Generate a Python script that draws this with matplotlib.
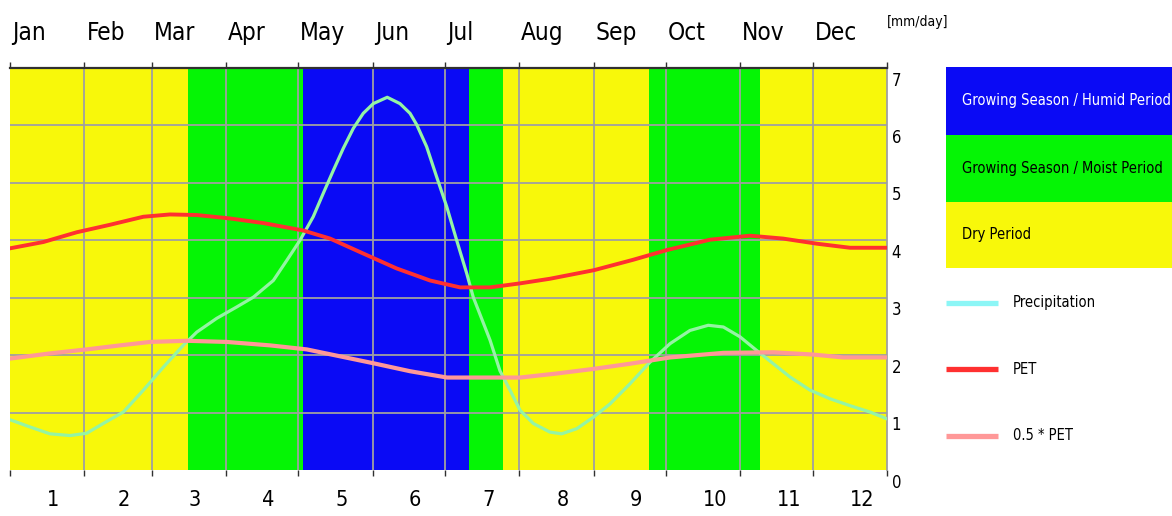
import numpy as np
import matplotlib
matplotlib.use("Agg")
import matplotlib.pyplot as plt
from matplotlib.patches import Rectangle
from matplotlib.lines import Line2D

plt.rcParams['font.family'] = ['DejaVu Sans']
plt.rcParams['font.stretch'] = 'condensed'

# calendar
month_names = ['Jan', 'Feb', 'Mar', 'Apr', 'May', 'Jun',
               'Jul', 'Aug', 'Sep', 'Oct', 'Nov', 'Dec']
month_days = [31, 28, 31, 30, 31, 30, 31, 31, 30, 31, 30, 31]

# periods (day of year)
season_edges = [0, 74, 122, 191, 205, 266, 312, 365]
season_kinds = ['dry', 'moist', 'humid', 'moist', 'dry', 'moist', 'dry']
season_colors = {'humid': '#0a0af5', 'moist': '#05f505', 'dry': '#f8f80a'}

# precipitation [mm/day]
precip_day = [0, 8.3, 16.6, 25.0, 31.9, 38.8, 47.2, 55.5, 63.8, 72.1, 77.7, 86.0,
              94.4, 101.3, 109.6, 115.2, 120.7, 126.2, 130.4, 134.6, 138.7, 142.9,
              147.0, 151.2, 157.0, 162.3, 166.5, 169.3, 173.4, 177.6, 181.8, 185.9,
              190.1, 192.8, 199.8, 203.9, 208.1, 212.3, 217.8, 224.7, 229.6, 235.9,
              242.8, 249.7, 258.0, 266.4, 274.7, 283.0, 290.6, 296.9, 303.8, 310.8,
              317.7, 324.6, 333.0, 341.3, 349.6, 357.9, 365]
precip_val = [0.875, 0.75, 0.63, 0.60, 0.64, 0.81, 1.01, 1.39, 1.79, 2.17, 2.40, 2.64,
              2.84, 3.01, 3.30, 3.65, 4.00, 4.41, 4.82, 5.22, 5.60, 5.95,
              6.21, 6.38, 6.49, 6.38, 6.21, 6.01, 5.63, 5.10, 4.58, 4.00,
              3.42, 3.01, 2.26, 1.73, 1.39, 1.04, 0.81, 0.66, 0.63, 0.72,
              0.92, 1.15, 1.50, 1.88, 2.20, 2.43, 2.52, 2.49, 2.32, 2.08,
              1.85, 1.62, 1.39, 1.24, 1.12, 1.01, 0.89]

# PET [mm/day]
pet_day = [0, 13.9, 27.8, 41.6, 55.5, 66.6, 77.7, 91.6, 105.4, 122.1, 133.2, 147.0,
           160.9, 174.8, 187.3, 199.8, 212.3, 224.7, 243.1, 259.3, 273.4, 291.3,
           308.0, 321.7, 335.9, 349.6, 365]
pet_val = [3.86, 3.97, 4.14, 4.27, 4.41, 4.45, 4.44, 4.38, 4.30, 4.17, 4.03, 3.77,
           3.51, 3.30, 3.18, 3.18, 3.25, 3.33, 3.48, 3.66, 3.83, 4.01,
           4.08, 4.03, 3.94, 3.87, 3.87]

# 0.5 * PET [mm/day]
half_pet_day = [0, 16.6, 31.9, 45.8, 58.3, 73.5, 90.2, 108.2, 123.5, 137.3, 151.1,
                166.5, 181.9, 199.8, 212.3, 227.5, 242.8, 258.0, 274.7, 296.9, 317.7,
                334.3, 346.8, 365]
half_pet_val = [1.94, 2.03, 2.10, 2.17, 2.23, 2.25, 2.23, 2.17, 2.10, 1.98, 1.86,
                1.72, 1.61, 1.61, 1.61, 1.68, 1.76, 1.85, 1.96, 2.04, 2.05,
                2.01, 1.96, 1.96]

W, H = 1172, 516


def fx(px):
    return px / W


def fy(py):
    return 1 - py / H


fig = plt.figure(figsize=(W / 100, H / 100), dpi=100)
ax = fig.add_axes([fx(10), fy(470), fx(887) - fx(10), fy(68) - fy(470)])

for a, b, k in zip(season_edges[:-1], season_edges[1:], season_kinds):
    ax.axvspan(a, b, color=season_colors[k], lw=0, zorder=0)

edges = np.concatenate([[0], np.cumsum(month_days)])
for e in edges[1:-1]:
    ax.axvline(e, color='#a0a0a0', lw=1.3, zorder=1)
for v in range(1, 7):
    ax.axhline(v, color='#a0a0a0', lw=1.3, zorder=1)

ax.plot(precip_day, precip_val, color='#94f4a4', lw=2.3, zorder=3)
ax.plot(pet_day, pet_val, color='#ff3030', lw=2.8, zorder=4)
ax.plot(half_pet_day, half_pet_val, color='#ff9898', lw=3.0, zorder=4)

ax.set_xlim(0, 365)
ax.set_ylim(0, 7)
ax.set_xticks(edges)
ax.set_xticklabels([])
ax.set_yticks([])
ax.tick_params(axis='x', top=True, bottom=True, direction='out',
               length=4, width=1, color='#303030')
ax.spines['left'].set_visible(False)
ax.spines['bottom'].set_visible(False)
ax.spines['top'].set_color('#303030')
ax.spines['top'].set_linewidth(1.6)
ax.spines['right'].set_color('#a0a0a0')
ax.spines['right'].set_linewidth(1.3)

xt = ax.get_xaxis_transform()
for i, name in enumerate(month_names):
    ax.text(edges[i] + 0.8, 1.087, name, transform=xt,
            ha='left', va='center', fontsize=17.5)
    ax.text((edges[i] + edges[i + 1]) / 2, -0.075, str(i + 1), transform=xt,
            ha='left', va='center', fontsize=15.5)

yt = ax.get_yaxis_transform()
for v in range(0, 8):
    ax.text(1.0054, v - 0.22, str(v), transform=yt,
            ha='left', va='center', fontsize=12)

fig.text(fx(887), fy(22), '[mm/day]', ha='left', va='center', fontsize=10)

# legend panel
boxes = [('humid', 67, 135, 'Growing Season / Humid Period', 'white'),
         ('moist', 135, 202, 'Growing Season / Moist Period', 'black'),
         ('dry', 202, 268, 'Dry Period', 'black')]
for k, y0, y1, label, tc in boxes:
    fig.add_artist(Rectangle((fx(946), fy(y1)), fx(1172) - fx(946), fy(y0) - fy(y1),
                             transform=fig.transFigure, color=season_colors[k], lw=0))
    fig.text(fx(962), fy((y0 + y1) / 2), label, color=tc,
             ha='left', va='center', fontsize=10.5)

lines = [(303, '#8cf6f6', 'Precipitation'),
         (369, '#ff3030', 'PET'),
         (436, '#ff9898', '0.5 * PET')]
for y, c, label in lines:
    fig.add_artist(Line2D([fx(946), fx(998)], [fy(y), fy(y)], transform=fig.transFigure,
                          color=c, lw=3.8, solid_capstyle='butt'))
    fig.text(fx(1013), fy(y), label, ha='left', va='center', fontsize=10.5)

fig.savefig('out.png', dpi=100)
